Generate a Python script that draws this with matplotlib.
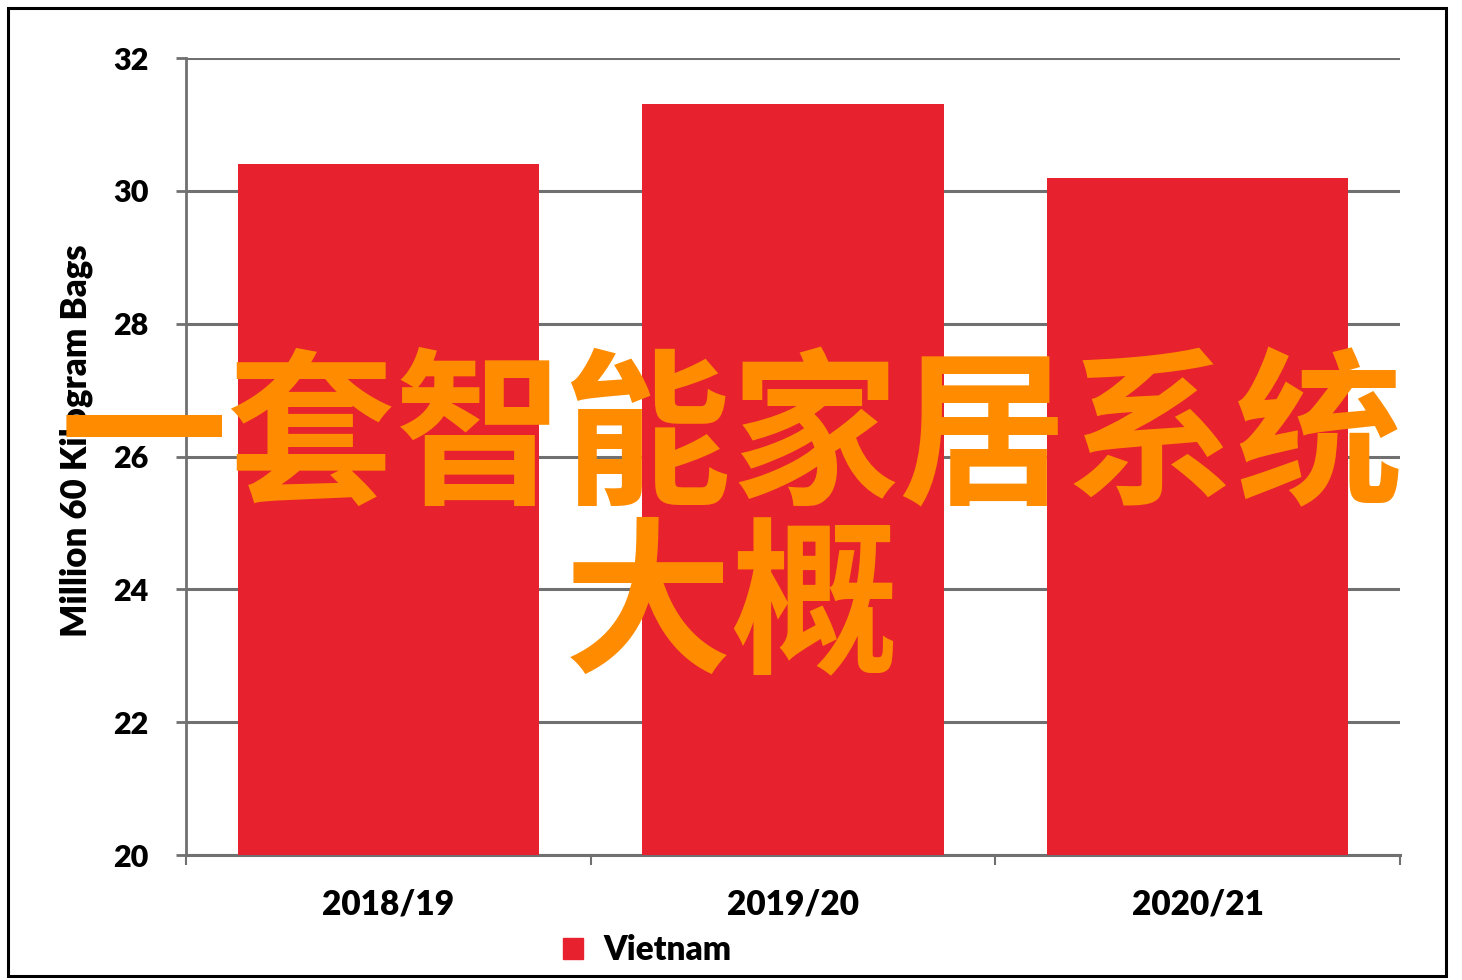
import matplotlib
matplotlib.use('Agg')
import matplotlib.pyplot as plt
from matplotlib.patches import Rectangle

seasons = ['2018/19', '2019/20', '2020/21']
vietnam = [30.4, 31.3, 30.2]
y_ticks = [20, 22, 24, 26, 28, 30, 32]
series_name = 'Vietnam'
y_label = 'Million 60 Kilogram Bags'
overlay_line1 = '一套智能家居系统'
overlay_line2 = '大概'

bar_color = '#E8212E'
grid_color = '#707070'
orange = '#FF8C00'

plt.rcParams['font.family'] = ['Lato', 'DejaVu Sans']
wt = 'heavy'

fig = plt.figure(figsize=(14.62, 9.8), dpi=100)
ax = fig.add_axes([186 / 1462, 1 - 855 / 980, (1400 - 186) / 1462, (855 - 58) / 980])

x = list(range(len(seasons)))
ax.bar(x, [v - 20 for v in vietnam], bottom=20, width=0.745, color=bar_color,
       zorder=3, label=series_name)

ax.set_xlim(-0.5, len(seasons) - 0.5)
ax.set_ylim(20, 32)
ax.set_yticks(y_ticks)
ax.set_yticklabels([str(t) for t in y_ticks], fontsize=22, fontweight=wt)
ax.set_xticks(x)
ax.set_xticklabels(seasons, fontsize=24, fontweight=wt)
ax.set_xticks([i - 0.5 for i in range(len(seasons) + 1)], minor=True)

ax.tick_params(axis='x', which='major', length=0, pad=24)
ax.tick_params(axis='x', which='minor', length=7, width=1.5, color=grid_color, direction='out')
ax.tick_params(axis='y', length=7, width=2, color=grid_color, direction='out', pad=20)

ax.grid(axis='y', color=grid_color, linewidth=2.2, zorder=0)
ax.set_axisbelow(True)

for side in ['top', 'right']:
    ax.spines[side].set_visible(False)
ax.spines['left'].set_color(grid_color)
ax.spines['left'].set_linewidth(2)
ax.spines['bottom'].set_color(grid_color)
ax.spines['bottom'].set_linewidth(2.2)

ax.set_ylabel(y_label, fontsize=25, fontweight=wt)
ax.yaxis.set_label_coords(-0.0766, 0.52)

handle = Rectangle((0, 0), 1, 1, color=bar_color)
fig.legend([handle], [series_name], loc='center', bbox_to_anchor=(0.4426, 0.0306),
           frameon=False, prop={'size': 24, 'weight': wt},
           handlelength=0.6, handleheight=0.6, handletextpad=0.6)

# border frame
fig.patches.append(Rectangle((8 / 1462, 4 / 980), 1438 / 1462, 968 / 980,
                             transform=fig.transFigure, fill=False,
                             edgecolor='black', linewidth=2.2, zorder=10))

cjk = ['Noto Sans CJK SC', 'DejaVu Sans']
fig.text(732 / 1462, 1 - 442 / 980, overlay_line1, family=cjk, fontsize=121,
         fontweight='bold', color=orange, ha='center', va='center', zorder=20)
fig.text(732 / 1462, 1 - 610 / 980, overlay_line2, family=cjk, fontsize=121,
         fontweight='bold', color=orange, ha='center', va='center', zorder=20)

fig.savefig('out.png', dpi=100)
